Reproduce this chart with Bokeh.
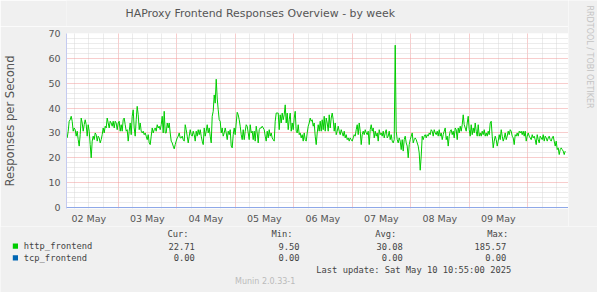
import math
import numpy as np
from bokeh.plotting import figure
from bokeh.layouts import column, row
from bokeh.models import FixedTicker, Range1d, Span
from bokeh.core.properties import value
from bokeh.embed import file_html
from bokeh.resources import INLINE

# ---------------- data ----------------
title_text = "HAProxy Frontend Responses Overview - by week"
y_label = "Responses per Second"
day_labels = ["02 May", "03 May", "04 May", "05 May", "06 May", "07 May", "08 May", "09 May"]
y_ticks = [0, 10, 20, 30, 40, 50, 60, 70]

# samples: hours relative to 03 May 00:00, one sample every ~24.6 min
t_start = -20.84
t_step = 0.41026

http_part1 = [28, 30.7, 34.7, 35.3, 36.7, 34.7, 30.7, 32, 31.3, 28.7,
              30.7, 27.3, 24.7, 29.3, 36, 34, 30.7, 33.3, 35.3, 33.3,
              28.7, 33.3, 30.7, 25.3, 20, 26.7, 28.7, 27.3, 30, 29.3,
              26.7, 28.7, 28, 26, 27.3, 29.3, 32, 30, 32.7, 32,
              36, 34, 32, 34.7, 34, 32.7, 34.7, 32, 34.7, 34,
              31.3, 34, 34.7, 30.7, 33.3, 30.7, 35.3, 36, 33.3, 30.7,
              31.3, 26.7, 30.7, 34, 29.3, 36.7, 39.3, 32, 28.7, 35.3,
              40.7, 37.3, 31.3, 34, 30.7, 30, 30.7, 29.3, 30, 28.7,
              27.3, 29.3, 26, 25.3, 28.7, 32, 30, 31.3, 32, 30.7,
              33.3, 32, 32.7, 31.3, 33.3, 36.7]
http_part2 = [30, 38.7, 30, 30, 34, 32, 34, 30, 26.7, 26,
              24.7, 23.6, 25.3, 26.7, 28, 28.7, 30, 28, 28, 28.7,
              27.3, 26.7, 33.3, 31.3, 28.7, 26, 28.7, 31.3, 29.3, 28.7,
              30.7, 29.3, 26.7, 30.7, 28.7, 31.3, 29.3, 31.3, 28.7, 26.7,
              25.3, 32, 28.7, 30.7, 33.3, 30, 32, 28.7, 26, 36.7,
              38.7, 45.3, 42, 51.6, 44, 39.3, 35.3, 34.7, 30, 32,
              28.7, 30, 32, 30, 27.3, 30.7, 29.3, 31.3, 24.7, 24,
              29.3, 32, 29.3, 34, 38.3, 37.3, 35.3, 32.7, 29.3, 27.3,
              31.3, 27.3, 30.7, 33.3, 32.7, 30, 27.3, 33.3, 30, 30.7,
              27.3, 30.7, 26.7, 32.7, 30, 26, 31.3, 32, 32, 32.7]
http_part3 = [32, 31.3, 28.7, 26.7, 30.7, 28, 31.3, 28.7, 30, 28,
              27.3, 26.7, 34.7, 38, 38, 38, 31.3, 37.3, 34, 38,
              35.3, 37.3, 41.3, 34, 38, 31.3, 35.3, 38, 30.7, 34,
              31.3, 36, 38.7, 30.7, 30, 33.3, 29.3, 30, 28, 29.3,
              26.7, 30, 27.3, 26.7, 30, 32.7, 34, 36, 34.7, 35.3,
              32.7, 34, 28.7, 25.3, 30, 33.3, 30.7, 34.7, 30.7, 35.3,
              31.3, 36.7, 30.7, 36, 34, 30.7, 37.3, 32, 36, 38,
              35.3, 30.7, 34, 29.3, 30.7, 32.7, 30.7, 29.3, 31.3, 30,
              28.7, 30.7, 28, 29.3, 27.3, 28, 26.7, 28, 27.3, 26.7,
              28, 29.3, 28.7, 31.3, 33.3, 29.3, 34, 30.7, 25.3, 29.3]
http_part4 = [30.7, 29.3, 31.3, 30, 29.3, 30.7, 25.3, 31.3, 33.3, 30.7,
              32, 28, 30.7, 28.7, 30, 26.7, 31.3, 29.3, 30, 28.7,
              30.7, 28, 30, 31.3, 28, 28.7, 30.7, 27.3, 29.3, 26.7,
              26, 27.3, 65.3, 30.7, 27.3, 26, 28, 26.7, 23.3, 27.3,
              22.7, 27.3, 28.7, 26, 24.7, 20, 25.3, 27.3, 28.7, 30,
              26, 27.3, 28, 27.3, 26, 24.7, 22, 15, 20.7, 28.7,
              27.3, 28.7, 29.3, 28, 29.3, 28.7, 30, 29.3, 31.3, 30.7,
              28.7, 31.3, 30, 29.3, 30.7, 28.7, 31.3, 28.7, 30, 27.3,
              29.3, 30.7, 32, 27.3, 28.7, 24.7, 28.7, 30.7, 31.3, 29.3,
              30.7, 28, 32, 31.3, 27.3, 32, 30, 32.7, 30.7, 33.3,
              37.3, 33.3]
http_part5 = [32, 30.7, 34, 36.7, 31.3, 28.7, 33.3, 29.3, 32,
              30, 34, 30.7, 28.7, 33.3, 28.7, 30, 28.7, 30.7, 29.3,
              31.3, 28.7, 30, 28.7, 30.7, 29.3, 34, 34.7, 28.7, 24,
              26.7, 28.7, 27.3, 24.7, 26.7, 29.3, 27.3, 31.3, 28.7, 26.7,
              28, 30, 27.3, 28.7, 30.7, 29.3, 31.3, 30.7, 28.7, 28,
              25.3, 29.3, 28.7, 30, 28.7, 30.7, 30, 30.7, 29.3, 30.7,
              28.7, 30.7, 26.7, 28.7, 30, 28.7, 28, 27.3, 29.3, 28,
              28.7, 27.3, 25.3, 29.3, 27.3, 26, 28.7, 28, 27.3, 29.3,
              26.7, 28.7, 28, 26.7, 28, 28.7, 27.3, 26.7, 28, 28.7,
              26.7, 24.7, 26.7, 23.3, 24, 21.3, 23.3, 24, 23.3, 22.7,
              21.3, 22.7]
http_frontend = http_part1 + http_part2 + http_part3 + http_part4 + http_part5
tcp_frontend = [0.0] * len(http_frontend)

series_names = ["http_frontend", "tcp_frontend"]
series_colors = ["#00CC00", "#0066B3"]
cur_vals = ["22.71", "0.00"]
min_vals = ["9.50", "0.00"]
avg_vals = ["30.08", "0.00"]
max_vals = ["185.57", "0.00"]
col_headers = ["Cur:", "Min:", "Avg:", "Max:"]
last_update = "Last update: Sat May 10 10:55:00 2025"
munin_version = "Munin 2.0.33-1"
rrd_credit = "RRDTOOL / TOBI OETIKER"

# ---------------- layout constants (canvas px) ----------------
W, H = 597, 292
H_TITLE = 26                 # title strip
H_UPPER = 226                # title strip + chart
FL, FR, FT, FB = 66, 568, 33, 209          # plot frame edges in canvas px
PX_PER_H = 2.4375
X0_PX = 117.5                              # 03 May 00:00
BG = "#F0F0F0"
TXT = "#555555"


def strip(width, height, x0, y0, left_border=0):
    """A blank figure whose data coordinates equal canvas pixels (y down)."""
    f = figure(width=width, height=height, output_backend="svg", toolbar_location=None,
               x_range=Range1d(x0 + left_border, x0 + width), y_range=Range1d(y0 + height, y0),
               x_axis_type=None, y_axis_type=None,
               min_border=0, min_border_left=left_border, min_border_right=0,
               min_border_top=0, min_border_bottom=0)
    f.background_fill_color = BG
    f.border_fill_color = BG
    f.outline_line_color = None
    f.grid.visible = False
    return f


# ---------------- title strip (frame aligned with the chart frame) ----------------
top = strip(FR, H_TITLE, 0, 0, left_border=FL)
top.text(x=[125], y=[13.3], text=[title_text], text_font=value("DejaVu Sans"),
         text_font_size=value("10.9px"), text_color=TXT,
         text_align="left", text_baseline="middle")

# ---------------- main chart ----------------
t = t_start + t_step * np.arange(len(http_frontend))
x_lo = (FL - X0_PX) / PX_PER_H
x_hi = (FR - X0_PX) / PX_PER_H
h_chart = H_UPPER - H_TITLE

p = figure(width=FR, height=h_chart, output_backend="svg", toolbar_location=None,
           x_range=Range1d(x_lo, x_hi), y_range=Range1d(-0.4, 70),
           min_border_left=FL, min_border_right=0,
           min_border_top=FT - H_TITLE, min_border_bottom=H_UPPER - FB)
p.background_fill_color = "#FFFFFF"
p.border_fill_color = BG
p.outline_line_color = None

midnights = [24 * i for i in range(0, 8)]
noons = [24 * i - 12 for i in range(len(day_labels))]
six_h = [6 * i for i in range(-3, 31) if i % 4 != 0]

for ax in (p.xaxis[0], p.yaxis[0]):
    ax.major_tick_line_color = None
    ax.minor_tick_line_color = None
    ax.major_tick_out = 0
    ax.major_tick_in = 0
    ax.minor_tick_out = 0
    ax.minor_tick_in = 0
    ax.major_label_text_font = "DejaVu Sans"
    ax.major_label_text_font_size = "9.5px"
    ax.major_label_text_color = TXT

p.xaxis.ticker = FixedTicker(ticks=noons)
p.xaxis.major_label_overrides = {n: lab for n, lab in zip(noons, day_labels)}
p.xaxis.axis_line_color = None
p.xaxis.major_label_standoff = 4

p.yaxis.ticker = FixedTicker(ticks=y_ticks, minor_ticks=[v for v in range(0, 71, 2) if v % 10])
p.yaxis.axis_line_color = "#C4CAF0"
p.yaxis.major_label_standoff = 6
p.yaxis.axis_label = y_label
p.yaxis.axis_label_text_font = "DejaVu Sans"
p.yaxis.axis_label_text_font_size = "11.6px"
p.yaxis.axis_label_text_font_style = "normal"
p.yaxis.axis_label_text_color = TXT
p.yaxis.axis_label_standoff = 28

p.xgrid.ticker = FixedTicker(ticks=midnights, minor_ticks=six_h)
p.xgrid.grid_line_color = "#F09A9A"
p.xgrid.grid_line_dash = "1 1"
p.xgrid.minor_grid_line_color = "#D8D8D8"
p.xgrid.minor_grid_line_dash = "1 1"
p.ygrid.grid_line_color = "#F09A9A"
p.ygrid.grid_line_dash = "1 1"
p.ygrid.minor_grid_line_color = "#D8D8D8"
p.ygrid.minor_grid_line_dash = "1 1"

p.add_layout(Span(location=0, dimension="width", line_color="#8EA8E8", line_width=1))

p.line(t, tcp_frontend, line_color=series_colors[1], line_width=1)
p.line(t, http_frontend, line_color=series_colors[0], line_width=1)

# ---------------- right credit strip ----------------
side = strip(W - FR, H_UPPER, FR, 0)
side.text(x=[589], y=[5], text=[rrd_credit], text_font=value("DejaVu Sans"),
          text_font_size=value("8px"), text_color="#C4C4C4",
          text_align="left", text_baseline="middle", angle=-math.pi / 2)

# ---------------- legend strip ----------------
leg = strip(W, H - H_UPPER, 0, H_UPPER)

MONO = value("DejaVu Sans Mono")
MS = value("8.75px")
LTXT = "#444444"

row_y = [245.7, 257.3]
col_right = [194.3, 299, 402.3, 505.7]
head_right = [188, 292, 395.7, 507.7]

leg.text(x=head_right, y=[233.5] * 4, text=col_headers, text_font=MONO, text_font_size=MS,
         text_color=LTXT, text_align="right", text_baseline="middle")
leg.quad(left=[12.3] * 2, right=[17.5] * 2,
         top=[y - 2.6 for y in row_y], bottom=[y + 2.6 for y in row_y],
         fill_color=series_colors, line_color=None)
leg.text(x=[23.3] * 2, y=row_y, text=series_names, text_font=MONO, text_font_size=MS,
         text_color=LTXT, text_align="left", text_baseline="middle")
for cx, vals in zip(col_right, [cur_vals, min_vals, avg_vals, max_vals]):
    leg.text(x=[cx] * 2, y=row_y, text=vals, text_font=MONO, text_font_size=MS,
             text_color=LTXT, text_align="right", text_baseline="middle")
leg.text(x=[510.7], y=[269.5], text=[last_update], text_font=MONO, text_font_size=MS,
         text_color=LTXT, text_align="right", text_baseline="middle")
leg.text(x=[234.5], y=[281], text=[munin_version], text_font=value("DejaVu Sans"),
         text_font_size=value("8px"), text_color="#BBBBBB",
         text_align="left", text_baseline="middle")

layout = column(row(column(top, p, spacing=0), side, spacing=0), leg, spacing=0)
open("out.html", "w").write(file_html(layout, INLINE))
